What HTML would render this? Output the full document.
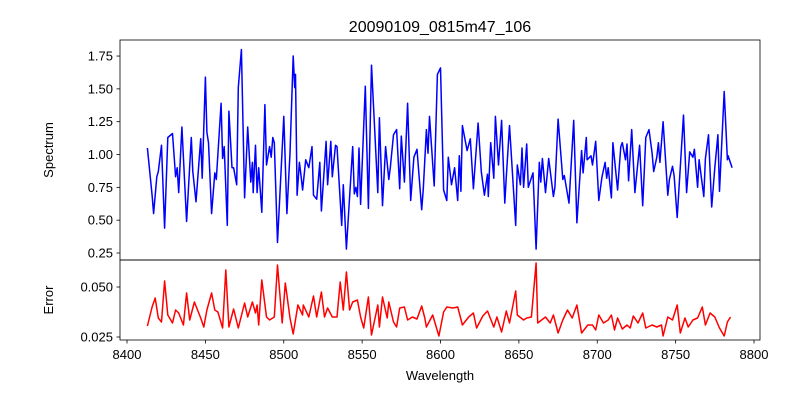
<!DOCTYPE html>
<html><head><meta charset="utf-8"><style>
body{margin:0;background:#fff;}
svg{display:block;font-family:"Liberation Sans",sans-serif;}
</style></head><body>
<svg id="chart" width="800" height="400" viewBox="0 0 800 400" xmlns="http://www.w3.org/2000/svg">
<rect width="800" height="400" fill="#fff"/>
<text x="440" y="32" font-size="16" text-anchor="middle">20090109_0815m47_106</text>
<g id="topPanel"></g>
<g id="botPanel"></g>
<text transform="translate(53,150) rotate(-90)" font-size="13" text-anchor="middle">Spectrum</text>
<text transform="translate(53,300) rotate(-90)" font-size="13" text-anchor="middle">Error</text>
<text x="440" y="380" font-size="13" text-anchor="middle">Wavelength</text>
</svg>
<script>
const specWave=[8413,8416,8417,8419,8420,8422,8424,8426,8429,8431,8432,8433,8435,8438,8441,8442,8444,8447,8448,8450,8451,8452,8454,8456,8457,8460,8461,8462,8464,8465,8467,8468,8470,8471,8473,8475,8477,8479,8480,8480.5,8482,8483,8484,8486,8488,8489,8491,8492,8493,8494,8496,8500,8502,8504,8506,8507,8507.5,8508.5,8510,8511,8512,8514,8516,8518,8519,8521,8523,8524,8527,8528,8530,8531,8533,8534,8537,8538,8540,8544,8545,8546,8547,8548,8549,8552,8554,8556,8560,8561,8563,8565,8567,8568,8570,8572,8574,8575,8577,8579,8581,8583,8585,8588,8589,8591,8592,8593,8596,8598,8600,8602,8604,8605,8607,8609,8611,8612,8613,8614,8617,8619,8621,8624,8626,8628,8630,8630.5,8632,8634,8635,8637,8639,8641,8642,8644,8648,8649,8651,8652,8653,8655,8656,8659,8661,8663,8664,8665,8667,8669,8672,8673,8675,8678,8679,8682,8685,8687,8690,8691,8693,8693.5,8696,8697,8699,8701,8703,8705,8706,8707,8709,8710,8713,8715,8716,8718,8719,8720,8722,8724,8727,8729,8731,8733,8735,8736,8738,8739,8740,8742,8745,8746,8748,8749,8751,8755,8757,8759,8761,8762,8764,8765,8768,8769,8771,8773,8775,8777,8778,8781,8783,8783.5,8786];
const specFlux=[1.05,0.69,0.55,0.83,0.87,1.07,0.44,1.13,1.16,0.83,0.90,0.71,1.21,0.49,1.13,0.87,0.64,1.12,0.82,1.59,1.17,1.09,0.55,0.86,0.81,1.39,0.97,1.06,0.46,1.33,0.90,0.90,0.77,1.51,1.80,0.67,1.21,0.79,0.94,0.71,1.07,0.71,0.90,0.56,1.38,0.92,1.06,0.98,1.13,1.09,0.33,1.29,0.55,1.01,1.75,1.51,1.61,0.69,0.94,0.84,0.73,0.96,0.90,1.06,0.69,0.66,0.94,0.57,1.10,0.77,1.10,0.83,1.07,1.06,0.46,0.77,0.28,1.06,0.70,0.75,0.68,1.05,0.62,1.52,0.59,1.68,0.71,1.28,0.61,1.06,0.81,0.90,1.15,1.19,0.74,1.14,0.79,1.39,0.65,0.98,1.04,0.58,0.74,1.19,1.01,1.29,0.76,1.61,1.66,0.73,0.65,0.98,0.77,0.90,0.65,0.99,0.72,1.22,1.03,1.12,0.74,1.24,0.87,0.69,0.85,0.68,1.09,0.82,1.29,0.92,1.26,0.63,0.83,1.22,0.46,0.92,0.77,1.05,0.75,1.08,0.75,0.86,0.28,0.94,0.79,0.97,0.71,0.97,0.68,0.75,1.27,0.81,0.84,0.63,1.26,0.48,1.03,0.86,1.13,0.96,0.99,0.92,1.10,0.65,0.83,0.94,0.82,0.90,0.67,1.09,0.73,1.06,1.09,0.96,1.08,0.80,1.19,0.71,1.07,0.61,1.13,1.19,1.01,0.87,0.98,1.09,0.94,1.25,0.69,0.81,0.91,0.84,0.52,1.30,0.71,1.02,0.98,1.04,0.75,0.96,0.68,0.97,1.15,0.60,0.90,1.15,0.72,1.48,0.96,0.99,0.90];
const errWave=[8413,8416,8418,8420,8422,8424,8426,8429,8431,8433,8436,8438,8440,8443,8447,8449,8451,8454,8456,8458,8461,8463,8465,8468,8471,8475,8477,8480,8482,8483,8484,8486,8489,8491,8494,8496,8499,8501,8504,8506,8509,8512,8512.5,8516,8519,8521,8524,8526,8528,8531,8534,8536,8538,8540,8542,8544,8547,8549,8551,8554,8556,8560,8561,8563,8566,8567,8570,8572,8574,8577,8579,8582,8585,8588,8590,8591,8595,8599,8602,8604,8608,8611,8612,8614,8618,8621,8623,8627,8630,8634,8636,8639,8642,8644,8648,8649,8653,8655,8658,8661,8662,8667,8670,8672,8675,8678,8681,8684,8687,8690,8694,8697,8699,8701,8704,8707,8709,8711,8713,8716,8719,8721,8723,8726,8729,8731,8735,8738,8741,8742,8745,8748,8751,8753,8756,8758,8761,8764,8767,8769,8772,8775,8778,8781,8783,8785];
const errVal=[0.0305,0.040,0.0445,0.0345,0.0325,0.053,0.036,0.032,0.0385,0.037,0.031,0.047,0.0335,0.0425,0.0345,0.030,0.0385,0.047,0.0385,0.0375,0.0295,0.0585,0.030,0.039,0.0295,0.042,0.035,0.0425,0.037,0.041,0.031,0.0535,0.035,0.0335,0.035,0.061,0.032,0.052,0.0345,0.0265,0.041,0.036,0.041,0.035,0.0455,0.035,0.0475,0.035,0.0395,0.035,0.035,0.0525,0.0385,0.0575,0.0385,0.0425,0.0435,0.035,0.0295,0.045,0.026,0.041,0.030,0.045,0.0345,0.0425,0.0325,0.030,0.0395,0.040,0.0335,0.035,0.034,0.0405,0.0345,0.030,0.036,0.0255,0.0375,0.040,0.0395,0.040,0.037,0.031,0.035,0.037,0.0295,0.0355,0.038,0.030,0.035,0.0275,0.038,0.032,0.048,0.036,0.0335,0.0345,0.035,0.062,0.032,0.035,0.032,0.036,0.027,0.0335,0.0385,0.0345,0.041,0.027,0.031,0.031,0.0285,0.036,0.032,0.0335,0.036,0.0285,0.0345,0.029,0.031,0.0295,0.0355,0.032,0.037,0.0295,0.031,0.030,0.031,0.0255,0.035,0.0335,0.041,0.027,0.0345,0.030,0.0335,0.0345,0.040,0.031,0.037,0.035,0.0295,0.0255,0.0325,0.035];
const xTicks=[8400,8450,8500,8550,8600,8650,8700,8750,8800];
const specTicks=[0.25,0.50,0.75,1.00,1.25,1.50,1.75];
const errTicks=[0.025,0.050];

const NS="http://www.w3.org/2000/svg";
const L=120,R=760;
const sx=v=>127+(v-8400)*(627/400);
const syT=v=>253-(v-0.25)*131.3;
const syB=v=>337-(v-0.025)*2000;
function mk(tag,attrs,parent){const e=document.createElementNS(NS,tag);for(const k in attrs)e.setAttribute(k,attrs[k]);parent.appendChild(e);return e;}
const topG=document.getElementById('topPanel'),botG=document.getElementById('botPanel');

function drawLine(parent,xs,ys,fy,color,name,top0,bot0){
  const cp=mk('clipPath',{id:name+'-clip'},parent);
  mk('rect',{x:L,y:top0,width:R-L,height:bot0-top0},cp);
  const n=Math.min(xs.length,ys.length);
  let d='';
  for(let i=0;i<n;i++)d+=(i?'L':'M')+sx(xs[i]).toFixed(1)+' '+fy(ys[i]).toFixed(1);
  const p=mk('path',{d:d,fill:'none',stroke:color,'stroke-width':1.5,'stroke-linejoin':'round','clip-path':'url(#'+name+'-clip)'},parent);
  
  
}
drawLine(topG,specWave,specFlux,syT,'#0000ff','spectrum-line',40,260);
drawLine(botG,errWave,errVal,syB,'#ff0000','error-line',260,340);

specTicks.forEach(t=>{const y=syT(t);
  const g=mk('g',{},topG);
  
  
  mk('line',{x1:L-3.5,x2:L,y1:y,y2:y,stroke:'#000','stroke-width':0.8},g);
  const tx=mk('text',{x:L-7,y:y+4.5,'font-size':13,'text-anchor':'end'},g);tx.textContent=t.toFixed(2);
});
errTicks.forEach(t=>{const y=syB(t);
  const g=mk('g',{},botG);
  
  
  mk('line',{x1:L-3.5,x2:L,y1:y,y2:y,stroke:'#000','stroke-width':0.8},g);
  const tx=mk('text',{x:L-7,y:y+4.5,'font-size':13,'text-anchor':'end'},g);tx.textContent=t.toFixed(3);
});
xTicks.forEach(t=>{const x=sx(t);
  const g=mk('g',{},botG);
  
  
  mk('line',{x1:x,x2:x,y1:340,y2:343.5,stroke:'#000','stroke-width':0.8},g);
  const tx=mk('text',{x:x,y:359,'font-size':13,'text-anchor':'middle'},g);tx.textContent=t;
});
const f1=mk('rect',{x:L,y:40,width:R-L,height:220,fill:'none',stroke:'#000','stroke-width':0.8},topG);


const f2=mk('rect',{x:L,y:260,width:R-L,height:80,fill:'none',stroke:'#000','stroke-width':0.8},botG);


</script>
</body></html>
